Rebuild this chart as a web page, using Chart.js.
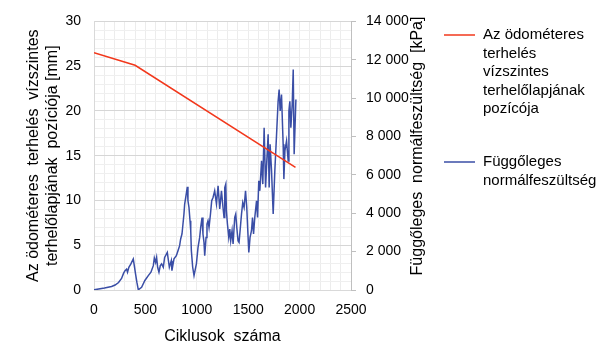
<!DOCTYPE html>
<html>
<head>
<meta charset="utf-8">
<script src="https://cdn.jsdelivr.net/npm/chart.js@4.4.1/dist/chart.umd.min.js"></script>
<style>
  html, body { margin: 0; padding: 0; background: #fff; }
  #wrap { width: 600px; height: 360px; }
</style>
</head>
<body>
<div id="wrap"><canvas id="chart" width="600" height="360"></canvas></div>
<script>
// red series: position of the loading plate [mm] (left axis)
const positionCycles = [0, 400, 1960]
const positionMm = [26.5, 25.1, 13.7]

// blue series: vertical normal stress [kPa] (right axis)
const stressCycles = [
    0, 102, 171, 205, 239, 268, 288, 302, 317, 326,
    339, 359, 382, 392, 404, 417, 431, 463, 495, 528,
    554, 577, 587, 599, 609, 619, 632, 645, 658, 674,
    687, 713, 733, 752, 758, 778, 801, 817, 833, 843,
    856, 875, 882, 892, 902, 908, 914, 924, 934, 941,
    947, 960, 973, 996, 1012, 1028, 1038, 1051, 1060, 1070,
    1077, 1090, 1099, 1109, 1119, 1133, 1145, 1158, 1174, 1191,
    1207, 1223, 1240, 1255, 1265, 1272, 1282, 1288, 1298, 1311,
    1321, 1330, 1343, 1353, 1369, 1379, 1389, 1401, 1411, 1421,
    1435, 1447, 1460, 1474, 1486, 1496, 1506, 1518, 1532, 1542,
    1552, 1564, 1581, 1591, 1603, 1613, 1630, 1642, 1655, 1669,
    1681, 1694, 1704, 1713, 1727, 1743, 1759, 1776, 1791, 1801,
    1811, 1824, 1840, 1847, 1857, 1873, 1889, 1896, 1905, 1915,
    1928, 1938, 1947, 1964
]
const stressKpa = [
    10, 100, 180, 260, 390, 600, 880, 1010, 1090, 925,
    1185, 1360, 1620, 1270, 840, 405, 10, 145, 495, 750,
    925, 1270, 1670, 1440, 1700, 1185, 925, 1270, 1360, 1185,
    1700, 1960, 1185, 1530, 1010, 1620, 1790, 2050, 2310, 2660,
    2920, 3960, 4480, 4820, 5170, 5380, 4650, 4300, 3610, 3090,
    2050, 1185, 750, 1360, 2220, 2740, 3260, 3780, 2920, 2480,
    1790, 2740, 3440, 3610, 3260, 3960, 4650, 4820, 5170, 4490,
    5430, 4230, 5170, 4300, 3780, 5340, 5520, 4130, 3440, 2740,
    3180, 2570, 3090, 2400, 3780, 3960, 3260, 2570, 2480, 3090,
    3960, 4560, 4300, 5170, 4300, 3090, 1960, 2740, 3090, 3780,
    2920, 3780, 4650, 3780, 5690, 5170, 6730, 5520, 8460, 5340,
    6730, 8120, 5340, 7600, 6210, 3960, 6210, 8120, 9840, 10450,
    9330, 10190, 7600, 5780, 7250, 7770, 6730, 9330, 9840, 8460,
    9670, 11490, 7080, 9930
]

const positionLegend = ['Az ödométeres', 'terhelés', 'vízszintes', 'terhelőlapjának', 'pozícója']
const stressLegend = ['Függőleges', 'normálfeszültség']
const xTitle = 'Ciklusok  száma'
const leftTitle = ['Az ödométeres  terhelés  vízszintes', 'terhelőlapjának  pozíciója [mm]']
const rightTitle = 'Függőleges  normálfeszültség  [kPa]'

const FONT = "'Liberation Sans', Arial, sans-serif"
Chart.defaults.font.family = FONT
Chart.defaults.color = '#000'

const RED = '#f2381c'
const BLUE = '#3a4ea6'

const thousands = v => String(v).replace(/\B(?=(\d{3})+(?!\d))/g, ' ')

// legend + rotated right-hand title drawn next to the plot
const sidePlugin = {
    id: 'side',
    afterDraw(chart) {
        const ctx = chart.ctx
        ctx.save()
        const entries = [
            { color: RED, lines: positionLegend, y: 35 },
            { color: BLUE, lines: stressLegend, y: 162 },
        ]
        ctx.font = `15px ${FONT}`
        ctx.textBaseline = 'middle'
        ctx.textAlign = 'left'
        entries.forEach(({ color, lines, y }) => {
            ctx.strokeStyle = color
            ctx.lineWidth = 1.5
            ctx.beginPath()
            ctx.moveTo(444, y)
            ctx.lineTo(475, y)
            ctx.stroke()
            ctx.fillStyle = '#000'
            lines.forEach((line, i) => ctx.fillText(line, 483, y + i * 18.5))
        })

        ctx.font = `16px ${FONT}`
        ctx.textAlign = 'center'
        ctx.translate(418, 146)
        ctx.rotate(-Math.PI / 2)
        ctx.fillText(rightTitle, 0, 0)
        ctx.restore()
    }
}

new Chart(document.getElementById('chart'), {
    type: 'line',
    data: {
        datasets: [
            {
                label: positionLegend.join(' '),
                data: positionCycles.map((x, i) => ({ x, y: positionMm[i] })),
                borderColor: RED,
                borderWidth: 1.5,
                pointRadius: 0,
                yAxisID: 'y',
            },
            {
                label: stressLegend.join(' '),
                data: stressCycles.map((x, i) => ({ x, y: stressKpa[i] })),
                borderColor: BLUE,
                borderWidth: 1.5,
                pointRadius: 0,
                yAxisID: 'y1',
            },
        ]
    },
    options: {
        responsive: false,
        animation: false,
        devicePixelRatio: 1,
        layout: { padding: { top: 20, right: 150, bottom: 0, left: 0 } },
        plugins: { legend: { display: false }, tooltip: { enabled: false } },
        scales: {
            x: {
                type: 'linear',
                min: 0,
                max: 2500,
                afterFit: s => { s.height = 70 },
                ticks: {
                    stepSize: 100,
                    autoSkip: false,
                    maxRotation: 0,
                    padding: 12,
                    font: { size: 14 },
                    callback: v => v % 500 === 0 ? String(v) : '',
                },
                grid: { color: '#ececec', drawTicks: false },
                border: { color: '#d9d9d9' },
                title: {
                    display: true,
                    text: xTitle,
                    font: { size: 16 },
                    padding: { top: 0, bottom: 14 },
                },
            },
            y: {
                position: 'left',
                min: 0,
                max: 30,
                afterFit: s => { s.width = 94 },
                ticks: {
                    stepSize: 1,
                    autoSkip: false,
                    padding: 13,
                    font: { size: 14 },
                    callback: v => v % 5 === 0 ? String(v) : '',
                },
                grid: {
                    drawTicks: false,
                    color: c => c.tick && c.tick.value % 5 === 0 ? '#d6d6d6' : '#efefef',
                },
                border: { color: '#d9d9d9' },
                title: {
                    display: true,
                    text: leftTitle,
                    font: { size: 16, lineHeight: 1.13 },
                    padding: { top: 25, bottom: 0 },
                },
            },
            y1: {
                position: 'right',
                min: 0,
                max: 14000,
                afterFit: s => { s.width = 99 },
                ticks: {
                    stepSize: 2000,
                    padding: 10,
                    crossAlign: 'near',
                    font: { size: 14 },
                    callback: v => thousands(v),
                },
                grid: { drawOnChartArea: false, drawTicks: true, tickLength: 5, tickColor: '#bfbfbf' },
                border: { color: '#bfbfbf' },
            },
        }
    },
    plugins: [sidePlugin]
})
</script>
</body>
</html>
